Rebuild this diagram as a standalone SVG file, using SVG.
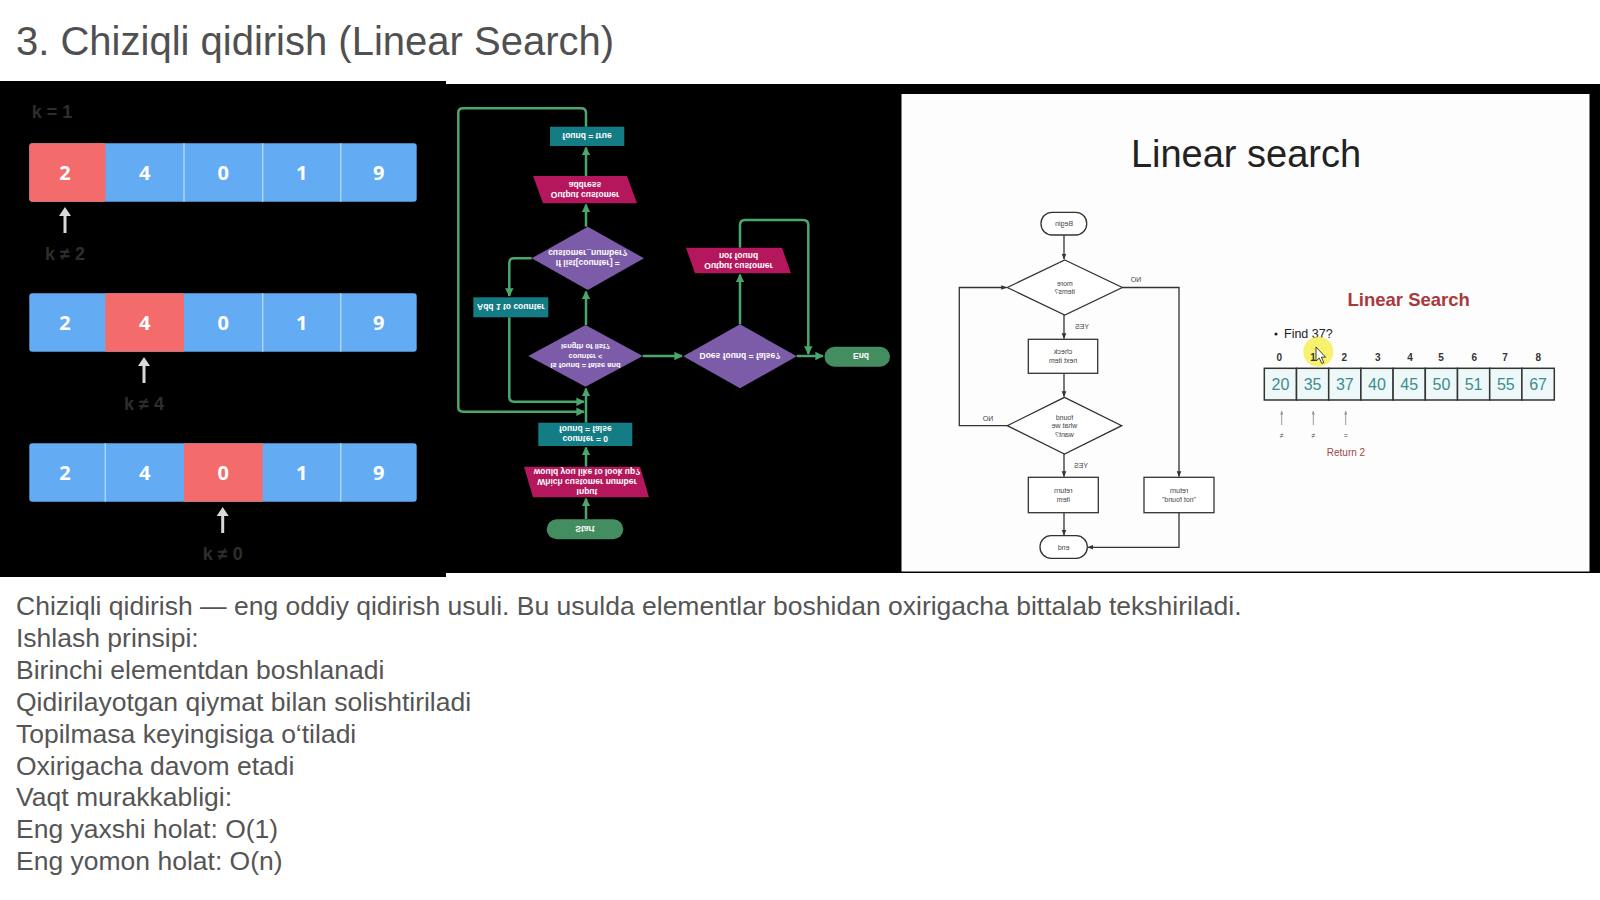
<svg xmlns="http://www.w3.org/2000/svg" width="1600" height="900" viewBox="0 0 1600 900">
<style>
.title{font-family:"Liberation Sans",Arial,sans-serif;font-size:40px;fill:#505050}
.body{font-family:"Liberation Sans",Arial,sans-serif;font-size:26.5px;fill:#555555}
.num{font-family:"Open Sans","Liberation Sans",sans-serif;font-size:20px;font-weight:bold;fill:#ffffff;text-anchor:middle}
.klbl{font-family:"Liberation Sans",sans-serif;font-size:18px;font-weight:bold;fill:#2e2e2e;text-anchor:middle}
.blue{fill:#63acf3}
.red{fill:#f36b6b}
.div{stroke:#a9d3fa;stroke-width:1.5}
.ptr{stroke:#d9d9d9;stroke-width:3;fill:none}
.ptrh{fill:#d9d9d9}
.teal{fill:#137c84}
.mag{fill:#b5175c}
.pur{fill:#7c5ca8}
.grn{fill:#448d60}
.mt{font-family:"Liberation Sans",sans-serif;font-size:8.5px;font-weight:bold;fill:#ffffff;text-anchor:middle}
.mts{font-family:"Liberation Sans",sans-serif;font-size:7.5px;font-weight:bold;fill:#ffffff;text-anchor:middle}
.gl{stroke:#4aa86c;stroke-width:2.5;fill:none}
.rl{stroke:#333333;stroke-width:1.3;fill:none}
.rs{fill:#ffffff;stroke:#333333;stroke-width:1.3}
.rt{font-family:"Liberation Sans",sans-serif;font-size:7px;fill:#444444;text-anchor:middle}
.cell{fill:#eef8f8;stroke:#333333;stroke-width:1.5}
.cv{font-family:"Liberation Sans",sans-serif;font-size:16px;fill:#3d8c8c;text-anchor:middle}
.idx{font-family:"Liberation Sans",sans-serif;font-size:10px;font-weight:bold;fill:#333333;text-anchor:middle}
</style>
<defs>
<marker id="ag" viewBox="0 0 10 10" refX="9" refY="5" markerWidth="3.4" markerHeight="3.4" orient="auto"><path d="M0,0 L10,5 L0,10 z" fill="#4aa86c"/></marker>
<marker id="ak" viewBox="0 0 10 10" refX="9" refY="5" markerWidth="4.5" markerHeight="4.5" orient="auto"><path d="M0,1 L10,5 L0,9 z" fill="#333333"/></marker>
<marker id="as" viewBox="0 0 10 10" refX="9" refY="5" markerWidth="4" markerHeight="4" orient="auto"><path d="M0,1 L10,5 L0,9 z" fill="#999999"/></marker>
</defs>

<rect x="0" y="0" width="1600" height="900" fill="#ffffff"/>

<text class="title" x="16" y="55">3. Chiziqli qidirish (Linear Search)</text>

<!-- Left panel -->
<g id="left-panel">
<rect x="0" y="81" width="446" height="496" fill="#000000"/>
<text class="klbl" x="52" y="118">k = 1</text>
<g id="array1">
<rect class="blue" x="29.3" y="143.3" width="387.4" height="58.4" rx="3"/>
<rect class="red" x="29.3" y="143.3" width="76" height="58.4" rx="3"/>
<rect class="red" x="90" y="143.3" width="15.3" height="58.4"/>
<line class="div" x1="184" y1="143.3" x2="184" y2="201.7"/>
<line class="div" x1="262.7" y1="143.3" x2="262.7" y2="201.7"/>
<line class="div" x1="340.7" y1="143.3" x2="340.7" y2="201.7"/>
<text class="num" x="65" y="180">2</text><text class="num" x="144.7" y="180">4</text><text class="num" x="223.3" y="180">0</text><text class="num" x="301.7" y="180">1</text><text class="num" x="378.7" y="180">9</text>
</g>
<g id="ptr1"><line class="ptr" x1="65" y1="233" x2="65" y2="214"/><path class="ptrh" d="M59,216 L65,207 L71,216 z"/></g>
<text class="klbl" x="65" y="260">k ≠ 2</text>
<g id="array2">
<rect class="blue" x="29.3" y="293.3" width="387.4" height="58.4" rx="3"/>
<rect class="red" x="105.3" y="293.3" width="78.7" height="58.4"/>
<line class="div" x1="262.7" y1="293.3" x2="262.7" y2="351.7"/>
<line class="div" x1="340.7" y1="293.3" x2="340.7" y2="351.7"/>
<text class="num" x="65" y="330">2</text><text class="num" x="144.7" y="330">4</text><text class="num" x="223.3" y="330">0</text><text class="num" x="301.7" y="330">1</text><text class="num" x="378.7" y="330">9</text>
</g>
<g id="ptr2"><line class="ptr" x1="144" y1="383" x2="144" y2="364"/><path class="ptrh" d="M138,366 L144,357 L150,366 z"/></g>
<text class="klbl" x="144" y="410">k ≠ 4</text>
<g id="array3">
<rect class="blue" x="29.3" y="443.3" width="387.4" height="58.4" rx="3"/>
<rect class="red" x="184" y="443.3" width="78.7" height="58.4"/>
<line class="div" x1="105.3" y1="443.3" x2="105.3" y2="501.7"/>
<line class="div" x1="340.7" y1="443.3" x2="340.7" y2="501.7"/>
<text class="num" x="65" y="480">2</text><text class="num" x="144.7" y="480">4</text><text class="num" x="223.3" y="480">0</text><text class="num" x="301.7" y="480">1</text><text class="num" x="378.7" y="480">9</text>
</g>
<g id="ptr3"><line class="ptr" x1="222.7" y1="533" x2="222.7" y2="514"/><path class="ptrh" d="M216.7,516 L222.7,507 L228.7,516 z"/></g>
<text class="klbl" x="222.7" y="560">k ≠ 0</text>
</g>

<!-- Middle + right background -->
<rect x="446" y="84" width="1154" height="489" fill="#000000"/>

<!-- Middle flowchart connectors -->
<g id="mid-connectors">
<path class="gl" marker-end="url(#ag)" d="M586,519 L586,498.5"/>
<path class="gl" marker-end="url(#ag)" d="M586,466.7 L586,447.5"/>
<path class="gl" marker-end="url(#ag)" d="M586,422.7 L586,388.5"/>
<path class="gl" marker-end="url(#ag)" d="M509.3,317.3 L509.3,397 Q509.3,401.7 514,401.7 L584,401.7"/>
<path class="gl" marker-end="url(#ag)" d="M586,126.7 L586,113 Q586,108.3 581,108.3 L463,108.3 Q458.3,108.3 458.3,113 L458.3,407 Q458.3,411.7 463,411.7 L584,411.7"/>
<path class="gl" marker-end="url(#ag)" d="M586,325 L586,291.5"/>
<path class="gl" marker-end="url(#ag)" d="M531.7,258.3 L514,258.3 Q509.3,258.3 509.3,263 L509.3,296"/>
<path class="gl" marker-end="url(#ag)" d="M586,226.7 L586,204.5"/>
<path class="gl" marker-end="url(#ag)" d="M586,176 L586,147.5"/>
<path class="gl" marker-end="url(#ag)" d="M642.7,356 L682,356"/>
<path class="gl" marker-end="url(#ag)" d="M740,324.3 L740,274.5"/>
<path class="gl" marker-end="url(#ag)" d="M740,247.7 L740,225 Q740,220 745,220 L803,220 Q808.3,220 808.3,225 L808.3,354"/>
<path class="gl" marker-end="url(#ag)" d="M796.7,356 L823,356"/>
</g>

<!-- Middle flowchart nodes (vertically flipped) -->
<g id="m-start">
<rect class="grn" x="546.7" y="519.3" width="76.6" height="20" rx="10"/>
<g transform="translate(585,529.3) scale(1,-1)"><text class="mt" x="0" y="3.2" font-size="10">Start</text></g>
</g>
<g id="m-input">
<polygon class="mag" points="524,466.7 640,466.7 649,497.3 533,497.3"/>
<g transform="translate(587,482) scale(1,-1)">
<text class="mt" x="0" y="-7">Input</text>
<text class="mt" x="0" y="3">Which customer number</text>
<text class="mt" x="0" y="13">would you like to look up?</text>
</g>
</g>
<g id="m-init">
<rect class="teal" x="538.3" y="422.7" width="94" height="23.3"/>
<g transform="translate(585.3,434.3) scale(1,-1)">
<text class="mt" x="0" y="-2">counter = 0</text>
<text class="mt" x="0" y="8">found = false</text>
</g>
</g>
<g id="m-loopcond">
<polygon class="pur" points="585.5,325 642.7,356 585.5,386.7 528.3,356"/>
<g transform="translate(585.5,356) scale(1,-1)">
<text class="mts" x="0" y="-7">Is found = false and</text>
<text class="mts" x="0" y="2.5">counter &lt;</text>
<text class="mts" x="0" y="12">length of list?</text>
</g>
</g>
<g id="m-add">
<rect class="teal" x="473.3" y="297.3" width="75" height="20"/>
<g transform="translate(510.8,307.3) scale(1,-1)"><text class="mt" x="0" y="3">Add 1 to counter</text></g>
</g>
<g id="m-match">
<polygon class="pur" points="587.8,226.7 644,258.3 587.8,290 531.7,258.3"/>
<g transform="translate(587.8,258.3) scale(1,-1)">
<text class="mt" x="0" y="-2">If list[counter] =</text>
<text class="mt" x="0" y="8">customer_number?</text>
</g>
</g>
<g id="m-outaddr">
<polygon class="mag" points="533,176 627,176 637,203.3 543,203.3"/>
<g transform="translate(585,189.7) scale(1,-1)">
<text class="mt" x="0" y="-2">Output customer</text>
<text class="mt" x="0" y="8">address</text>
</g>
</g>
<g id="m-foundtrue">
<rect class="teal" x="550" y="126.7" width="74.3" height="19.3"/>
<g transform="translate(587,136.3) scale(1,-1)"><text class="mt" x="0" y="3">found = true</text></g>
</g>
<g id="m-notfoundcond">
<polygon class="pur" points="740,324.3 796.7,356.3 740,388.3 683.3,356.3"/>
<g transform="translate(740,356.3) scale(1,-1)"><text class="mt" x="0" y="3">Does found = false?</text></g>
</g>
<g id="m-outnotfound">
<polygon class="mag" points="686,247.7 782,247.7 791,273.3 695,273.3"/>
<g transform="translate(738.5,260.5) scale(1,-1)">
<text class="mt" x="0" y="-2">Output customer</text>
<text class="mt" x="0" y="8">not found</text>
</g>
</g>
<g id="m-end">
<rect class="grn" x="824.5" y="346.7" width="65.5" height="20" rx="10"/>
<g transform="translate(861,356.7) scale(1,-1)"><text class="mt" x="0" y="3.2" font-size="10">End</text></g>
</g>

<!-- Right slide -->
<rect x="901.5" y="94" width="688" height="477.5" fill="#fdfdfd"/>
<text x="1246" y="167" font-family="Liberation Sans, Arial, sans-serif" font-size="38" fill="#222222" text-anchor="middle">Linear search</text>

<g id="r-connectors">
<path class="rl" marker-end="url(#ak)" d="M1064,235 L1064,259"/>
<path class="rl" marker-end="url(#ak)" d="M1064,315 L1064,338.5"/>
<path class="rl" marker-end="url(#ak)" d="M1064,373.3 L1064,396.5"/>
<path class="rl" marker-end="url(#ak)" d="M1064,454 L1064,476.5"/>
<path class="rl" marker-end="url(#ak)" d="M1064,512.7 L1064,535"/>
<path class="rl" marker-end="url(#ak)" d="M1122.3,287.5 L1179,287.5 L1179,476.5"/>
<path class="rl" marker-end="url(#ak)" d="M1007.3,425.7 L959.3,425.7 L959.3,287.5 L1006.5,287.5"/>
<path class="rl" marker-end="url(#ak)" d="M1179,512.7 L1179,547.3 L1088,547.3"/>
</g>

<g id="r-begin">
<rect class="rs" x="1041" y="212.3" width="45.7" height="22.7" rx="11"/>
<g transform="translate(1064,223.6) scale(-1,1)"><text class="rt" x="0" y="2.5">Begin</text></g>
</g>
<g id="r-more">
<polygon class="rs" points="1064.8,260 1122.3,287.5 1064.8,315 1007.3,287.5"/>
<g transform="translate(1064.8,287.5) scale(-1,1)"><text class="rt" x="0" y="-2">more</text><text class="rt" x="0" y="6.5">items?</text></g>
</g>
<g id="r-check">
<rect class="rs" x="1028.3" y="339.3" width="69.4" height="34"/>
<g transform="translate(1063,356.3) scale(-1,1)"><text class="rt" x="0" y="-2">check</text><text class="rt" x="0" y="6.5">next item</text></g>
</g>
<g id="r-found">
<polygon class="rs" points="1064.5,397.3 1121.7,425.7 1064.5,454 1007.3,425.7"/>
<g transform="translate(1064.5,425.7) scale(-1,1)"><text class="rt" x="0" y="-6">found</text><text class="rt" x="0" y="2.5">what we</text><text class="rt" x="0" y="11">want?</text></g>
</g>
<g id="r-retitem">
<rect class="rs" x="1028.3" y="477.3" width="70" height="35.4"/>
<g transform="translate(1063.3,495) scale(-1,1)"><text class="rt" x="0" y="-2">return</text><text class="rt" x="0" y="6.5">item</text></g>
</g>
<g id="r-retnf">
<rect class="rs" x="1144" y="477.3" width="70" height="35.4"/>
<g transform="translate(1179,495) scale(-1,1)"><text class="rt" x="0" y="-2">return</text><text class="rt" x="0" y="6.5">"not found"</text></g>
</g>
<g id="r-end">
<rect class="rs" x="1040" y="535.7" width="47.3" height="22.6" rx="11"/>
<g transform="translate(1063.6,547) scale(-1,1)"><text class="rt" x="0" y="2.5">end</text></g>
</g>
<g id="r-labels">
<g transform="translate(1136,279) scale(-1,1)"><text class="rt" x="0" y="2.5">NO</text></g>
<g transform="translate(1082,326) scale(-1,1)"><text class="rt" x="0" y="2.5">YES</text></g>
<g transform="translate(988,418) scale(-1,1)"><text class="rt" x="0" y="2.5">NO</text></g>
<g transform="translate(1081,465) scale(-1,1)"><text class="rt" x="0" y="2.5">YES</text></g>
</g>

<g id="r-array">
<text x="1408.7" y="306" font-family="Liberation Sans, Arial, sans-serif" font-size="18.5" font-weight="bold" fill="#a83a3e" text-anchor="middle">Linear Search</text>
<circle cx="1276" cy="334" r="1.6" fill="#222222"/>
<text x="1284" y="338" font-family="Liberation Sans, Arial, sans-serif" font-size="12.5" fill="#222222">Find 37?</text>
<circle cx="1318.3" cy="351.7" r="15" fill="#f4ec3c" opacity="0.75"/>
<text class="idx" x="1279.3" y="361">0</text>
<text class="idx" x="1313" y="361">1</text>
<text class="idx" x="1344.3" y="361">2</text>
<text class="idx" x="1377.7" y="361">3</text>
<text class="idx" x="1410" y="361">4</text>
<text class="idx" x="1441" y="361">5</text>
<text class="idx" x="1474.3" y="361">6</text>
<text class="idx" x="1505" y="361">7</text>
<text class="idx" x="1538.3" y="361">8</text>
<polygon points="1316,347 1316,361 1319.3,358 1321.8,363.5 1323.8,362.6 1321.4,357.2 1325.6,357.2" fill="#ffffff" stroke="#111111" stroke-width="0.8"/>
<rect class="cell" x="1264.3" y="368.3" width="32.2" height="31.7"/>
<rect class="cell" x="1296.5" y="368.3" width="32.2" height="31.7"/>
<rect class="cell" x="1328.7" y="368.3" width="32.2" height="31.7"/>
<rect class="cell" x="1360.9" y="368.3" width="32.2" height="31.7"/>
<rect class="cell" x="1393.1" y="368.3" width="32.2" height="31.7"/>
<rect class="cell" x="1425.3" y="368.3" width="32.2" height="31.7"/>
<rect class="cell" x="1457.5" y="368.3" width="32.2" height="31.7"/>
<rect class="cell" x="1489.7" y="368.3" width="32.2" height="31.7"/>
<rect class="cell" x="1521.9" y="368.3" width="32.4" height="31.7"/>
<text class="cv" x="1280.4" y="390">20</text>
<text class="cv" x="1312.6" y="390">35</text>
<text class="cv" x="1344.8" y="390">37</text>
<text class="cv" x="1377" y="390">40</text>
<text class="cv" x="1409.2" y="390">45</text>
<text class="cv" x="1441.4" y="390">50</text>
<text class="cv" x="1473.6" y="390">51</text>
<text class="cv" x="1505.8" y="390">55</text>
<text class="cv" x="1538.1" y="390">67</text>
<line x1="1281.7" y1="425" x2="1281.7" y2="411" stroke="#999999" stroke-width="1" marker-end="url(#as)"/>
<line x1="1313.3" y1="425" x2="1313.3" y2="411" stroke="#999999" stroke-width="1" marker-end="url(#as)"/>
<line x1="1345.7" y1="425" x2="1345.7" y2="411" stroke="#999999" stroke-width="1" marker-end="url(#as)"/>
<text x="1281.7" y="438" font-family="Liberation Sans, sans-serif" font-size="7" fill="#554444" text-anchor="middle">≠</text>
<text x="1313.3" y="438" font-family="Liberation Sans, sans-serif" font-size="7" fill="#554444" text-anchor="middle">≠</text>
<text x="1345.7" y="438" font-family="Liberation Sans, sans-serif" font-size="7" fill="#554444" text-anchor="middle">=</text>
<text x="1346" y="456" font-family="Liberation Sans, sans-serif" font-size="10" fill="#a04848" text-anchor="middle">Return 2</text>
</g>

<!-- Body text -->
<g id="body-text">
<text class="body" x="16" y="615">Chiziqli qidirish — eng oddiy qidirish usuli. Bu usulda elementlar boshidan oxirigacha bittalab tekshiriladi.</text>
<text class="body" x="16" y="647">Ishlash prinsipi:</text>
<text class="body" x="16" y="679">Birinchi elementdan boshlanadi</text>
<text class="body" x="16" y="711">Qidirilayotgan qiymat bilan solishtiriladi</text>
<text class="body" x="16" y="743">Topilmasa keyingisiga o‘tiladi</text>
<text class="body" x="16" y="775">Oxirigacha davom etadi</text>
<text class="body" x="16" y="806">Vaqt murakkabligi:</text>
<text class="body" x="16" y="838">Eng yaxshi holat: O(1)</text>
<text class="body" x="16" y="870">Eng yomon holat: O(n)</text>
</g>
</svg>
